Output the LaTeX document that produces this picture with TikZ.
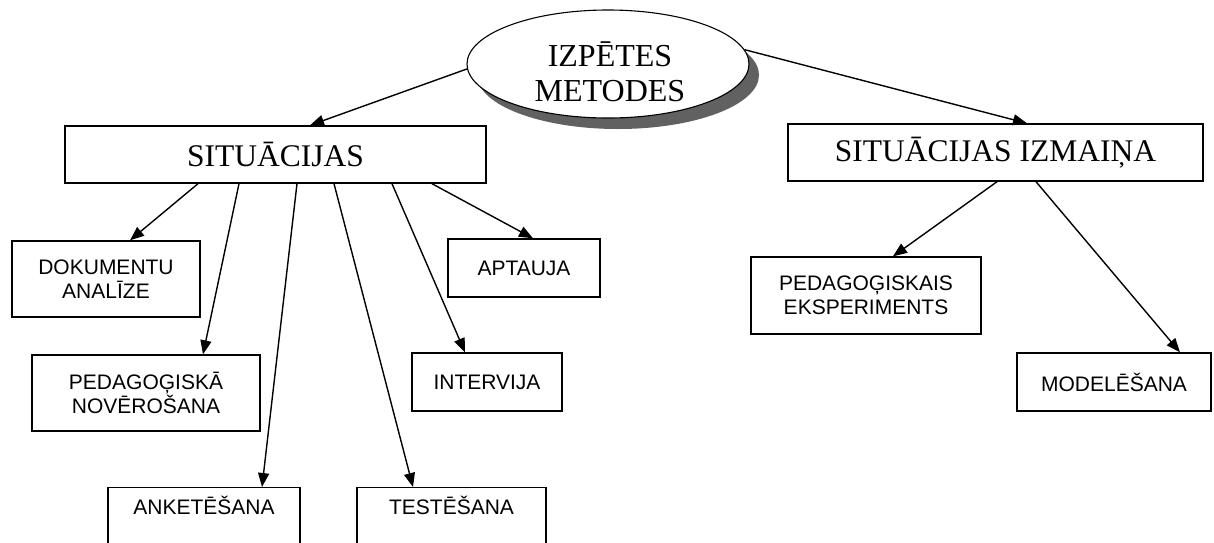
\documentclass[tikz,border=0pt]{standalone}
\usepackage{fontspec}
\setmainfont{Liberation Serif}
\newfontfamily\arialish{Liberation Sans}
\usetikzlibrary{shapes.geometric,arrows.meta,calc}

\begin{document}
\begin{tikzpicture}[x=1pt,y=-1pt,
  line width=1.4pt,
  arr/.style={-{Triangle[length=14pt,width=11pt]}},
  serifbox/.style={draw, rectangle, inner sep=0pt,
    font=\fontsize{31.5}{36}\selectfont},
  sansbox/.style={draw, rectangle, inner sep=0pt, align=center,
    font=\arialish\fontsize{21}{24}\selectfont},
  openbox/.style={draw, rectangle, inner sep=0pt, anchor=north,
    text height=26.5pt, text depth=50pt,
    font=\arialish\fontsize{21}{24}\selectfont},
]
\useasboundingbox (0,0) rectangle (1214,542);
\fill[white] (0,0) rectangle (1214,542);
\clip (0,0) rectangle (1214,542);

% central ellipse with its dark shadow
\fill[black!62] (618,75) ellipse [x radius=141, y radius=54];
\node[ellipse, draw, fill=white, line width=1.1pt, inner sep=0pt,
      minimum width=282, minimum height=108] (root) at (608,64) {};
\node[align=center, font=\fontsize{32}{35}\selectfont] (roottxt) at (610,72)
  {IZPĒTES\\METODES};

% second level
\node[serifbox, minimum width=421, minimum height=57] (sit) at (275.5,154.5) {SITUĀCIJAS};
\node[serifbox, minimum width=415, minimum height=57] (izm) at (995.5,152.5) {SITUĀCIJAS IZMAIŅA};

% methods of the situation
\node[sansbox, minimum width=188, minimum height=76] (dok) at (106,279) {DOKUMENTU\\ANALĪZE};
\node[sansbox, minimum width=228, minimum height=76] (ped) at (146,393) {PEDAGOĢISKĀ\\NOVĒROŠANA};
\node[openbox, minimum width=192] (anke) at (204,487) {ANKETĒŠANA};
\node[openbox, minimum width=189] (test) at (451.5,487) {TESTĒŠANA};
\node[sansbox, minimum width=150, minimum height=58] (inter) at (487,382) {INTERVIJA};
\node[sansbox, minimum width=152, minimum height=58] (apt) at (524,268) {APTAUJA};

% methods of changing the situation
\node[sansbox, minimum width=230, minimum height=77] (pedex) at (866,295.5) {PEDAGOĢISKAIS\\EKSPERIMENTS};
\node[sansbox, minimum width=194, minimum height=58] (model) at (1114,382) {MODELĒŠANA};

% connectors
\draw[arr] (root.182) -- ($(sit.north)+(34.5,0)$);
\draw[arr] (root.6) -- ($(izm.north)+(31.5,0)$);
\draw[arr] ($(sit.south)+(-77.5,0)$) -- ($(dok.north)+(24,0)$);
\draw[arr] ($(sit.south)+(-36.5,0)$) -- ($(ped.north)+(57,0)$);
\draw[arr] ($(sit.south)+(21.5,0)$) -- ($(anke.north)+(58,0)$);
\draw[arr] ($(sit.south)+(58.5,0)$) -- ($(test.north)+(-38.5,0)$);
\draw[arr] ($(sit.south)+(116.5,0)$) -- ($(inter.north)+(-22,0)$);
\draw[arr] ($(sit.south)+(156.5,0)$) -- ($(apt.north)+(9,0)$);
\draw[arr] ($(izm.south)+(1.5,0)$) -- ($(pedex.north)+(27,0)$);
\draw[arr] ($(izm.south)+(40.5,0)$) -- ($(model.north)+(66,0)$);
\end{tikzpicture}
\end{document}
